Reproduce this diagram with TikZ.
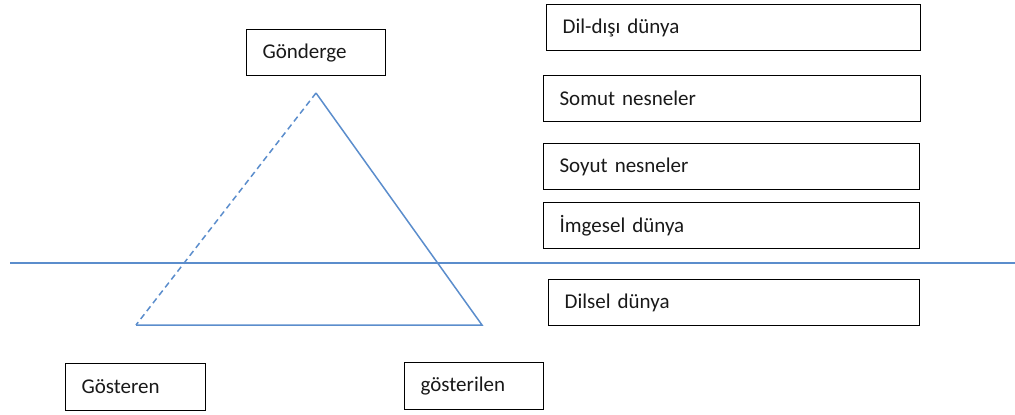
\documentclass[tikz,border=0pt]{standalone}
\usepackage{fontspec}
\setmainfont{Carlito}
\begin{document}
\begin{tikzpicture}[x=1pt,y=-1pt,
  lbox/.style={draw=black, line width=1.2pt, inner xsep=16pt, inner ysep=0pt, align=left,
     font=\fontsize{21}{25}\selectfont, text=black!90, anchor=north west, minimum height=#1},
  lbox/.default=46pt,
  bl/.style={draw=blue1, line width=1.5pt}]
\definecolor{blue1}{RGB}{91,141,204}
\useasboundingbox (0,0) rectangle (1015,415);
% boxes
\node[lbox, text width=107pt] (gonderge) at (246,29) {Gönderge};
\node[lbox, text width=342pt] (dildisi) at (546,4) {Dil-dışı dünya};
\node[lbox, text width=345pt] (somut) at (543,75) {Somut nesneler};
\node[lbox, text width=344pt] (soyut) at (543,143) {Soyut nesneler};
\node[lbox, text width=344pt] (imgesel) at (543,202) {İmgesel dünya};
\node[lbox, text width=339pt] (dilsel) at (548,279) {Dilsel dünya};
\node[lbox, text width=108pt, minimum height=47pt] (gosteren) at (65,363) {Gösteren};
\node[lbox, text width=107pt, minimum height=47pt] (gosterilen) at (404,362) {gösterilen};
% triangle
\coordinate (apex) at (316,93);
\coordinate (bleft) at (136,325);
\coordinate (bright) at (482,325);
\draw[bl, dash pattern=on 6pt off 4pt] (apex) -- (bleft);
\draw[bl, line join=miter] (bleft) -- (bright) -- (apex);
% horizontal divider
\coordinate (hl) at (10,263);
\coordinate (hr) at (1015,263);
\draw[bl] (hl) -- (hr);
\end{tikzpicture}
\end{document}
